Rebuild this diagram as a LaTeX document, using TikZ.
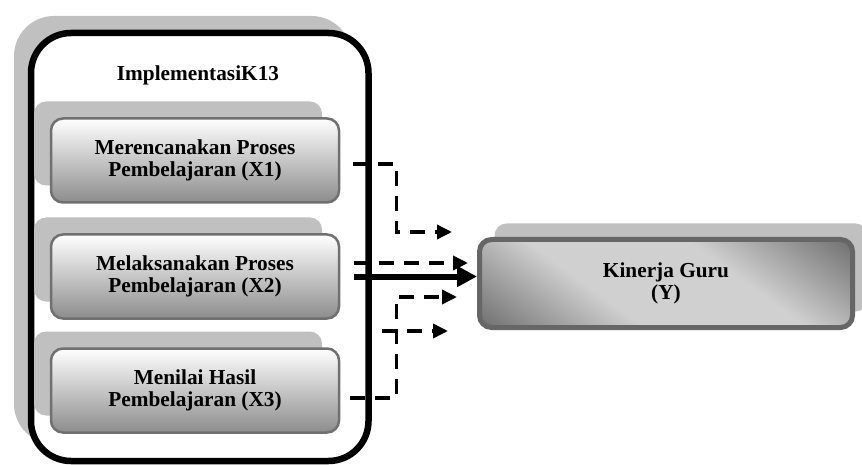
\documentclass[tikz,border=0pt]{standalone}
\usepackage{fontspec}
\setmainfont{Liberation Serif}
\usetikzlibrary{positioning}
\usetikzlibrary{calc}
\usetikzlibrary{arrows.meta}
\usetikzlibrary{shadows}

\definecolor{bayang}{HTML}{C0C0C0}
\definecolor{garis}{HTML}{707070}
\definecolor{gelap}{HTML}{6A6A6A}
\definecolor{terang}{HTML}{D0D0D0}
\pgfdeclarehorizontalshading{logam}{100bp}{color(0bp)=(gelap); color(25bp)=(gelap); color(42bp)=(terang); color(58bp)=(terang); color(75bp)=(gelap); color(100bp)=(gelap)}

\begin{document}
\begin{tikzpicture}[x=1pt, y=-1pt,
    teks/.style={font=\bfseries\fontsize{21.3}{22}\selectfont, align=center},
    luar/.style={draw, fill=white, line width=6.5pt, rounded corners=40pt, minimum width=337.5pt, minimum height=428pt,
      general shadow={fill=bayang, shadow xshift=-17pt, shadow yshift=17pt}},
    dimensi/.style={teks, draw=garis, line width=2.5pt, rounded corners=12pt, top color=white, bottom color=black!45,
      minimum width=288pt, minimum height=84pt,
      general shadow={fill=bayang, shadow xshift=-17pt, shadow yshift=17pt}},
    kinerja/.style={teks, draw=black!60, line width=5pt, rounded corners=12pt,
      minimum width=373pt, minimum height=88pt,
      path picture={
        \begin{scope}[transform canvas={rotate around={54:(path picture bounding box.center)}}]
          \shade[shading=logam] ($(path picture bounding box.center)+(-149,-181)$) rectangle ($(path picture bounding box.center)+(149,181)$);
        \end{scope}},
      general shadow={fill=bayang, shadow xshift=15pt, shadow yshift=16pt}},
    putus/.style={line width=3.5pt, dash pattern=on 15pt off 10pt, -{Triangle[length=15pt,width=14pt]}},
    tebal/.style={line width=6pt, -{Triangle[length=20pt,width=20pt]}}]
  \useasboundingbox (0,0) rectangle (862,465);

  % variabel X
  \node[luar] (k13) at (199.75,247) {};
  \node[teks] (judul) at (198,75) {ImplementasiK13};
  \node[dimensi] (x1) at (195,160.5) {Merencanakan Proses\\Pembelajaran (X1)};
  \node[dimensi] (x2) at (195,276.5) {Melaksanakan Proses\\Pembelajaran (X2)};
  \node[dimensi] (x3) at (195,390.5) {Menilai Hasil\\Pembelajaran (X3)};

  % variabel Y
  \node[kinerja] (y) at (666,283.5) {Kinerja Guru\\(Y)};

  \coordinate (t1) at (452,232);
  \coordinate (t2) at (468,263);
  \coordinate (t3) at (457,297);
  \coordinate (s4) at (382,331);
  \coordinate (t4) at (448,331);

  \draw[putus] ([xshift=13pt,yshift=-3.5pt]x1.east) -- ++(43,0) |- (t1);
  \draw[putus] ([xshift=14pt,yshift=13.5pt]x2.east) -- (t2);
  \draw[putus] ([xshift=10pt,yshift=-7.5pt]x3.east) -- ++(46,0) |- (t3);
  \draw[putus] (s4) -- (t4);
  \draw[tebal] ([xshift=14pt]x2.east) -- (x2.east -| y.west);
\end{tikzpicture}
\end{document}
